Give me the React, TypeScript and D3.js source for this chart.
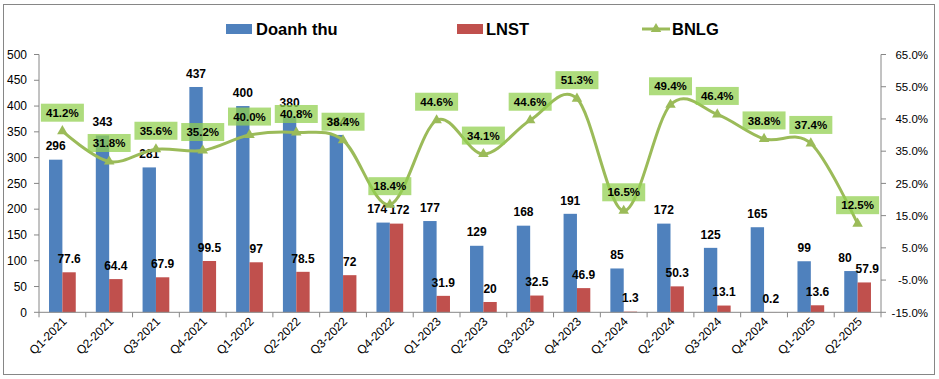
import React from "react";
import * as d3 from "d3";

const categories = [
  "Q1-2021", "Q2-2021", "Q3-2021", "Q4-2021", "Q1-2022", "Q2-2022", "Q3-2022", "Q4-2022",
  "Q1-2023", "Q2-2023", "Q3-2023", "Q4-2023", "Q1-2024", "Q2-2024", "Q3-2024", "Q4-2024",
  "Q1-2025", "Q2-2025",
];
const doanhThu = [296, 343, 281, 437, 400, 380, 344, 174, 177, 129, 168, 191, 85, 172, 125, 165, 99, 80];
const lnst = [77.6, 64.4, 67.9, 99.5, 97, 78.5, 72, 172, 31.9, 20, 32.5, 46.9, 1.3, 50.3, 13.1, 0.2, 13.6, 57.9];
const bnlg = [41.2, 31.8, 35.6, 35.2, 40.0, 40.8, 38.4, 18.4, 44.6, 34.1, 44.6, 51.3, 16.5, 49.4, 46.4, 38.8, 37.4, 12.5];
const leftTicks = [0, 50, 100, 150, 200, 250, 300, 350, 400, 450, 500];
const rightTicks = [-15, -5, 5, 15, 25, 35, 45, 55, 65];
const seriesNames = ["Doanh thu", "LNST", "BNLG"];

const W = 939;
const H = 379;
const plotLeft = 39;
const plotRight = 881;
const plotTop = 54.5;
const plotBottom = 312.3;

const BLUE = "#4F81BD";
const RED = "#C0504D";
const GREEN = "#9BBB59";
const AXIS = "#868686";
const FONT = "'Liberation Sans', Arial, sans-serif";

export default function App() {
  const x = d3.scaleBand<string>().domain(categories).range([plotLeft, plotRight]).paddingInner(0).paddingOuter(0);
  const bw = x.bandwidth();
  const inner = d3.scaleBand<string>().domain(["dt", "ln"]).range([0, bw]).paddingInner(0).paddingOuter(0.75);
  const barW = inner.bandwidth();
  const yL = d3.scaleLinear().domain([0, 500]).range([plotBottom, plotTop]);
  const yR = d3.scaleLinear().domain([-15, 65]).range([plotBottom, plotTop]);

  const pts: [number, number][] = bnlg.map((v, i) => [x(categories[i])! + bw / 2, yR(v)]);
  const linePath = d3.line().curve(d3.curveCatmullRom.alpha(0))(pts) || "";
  const tri = d3.symbol().type(d3.symbolTriangle).size(48)() || "";

  const boundaries = d3.range(categories.length + 1).map((i) => plotLeft + i * bw);

  return (
    <svg width={W} height={H} style={{ position: "absolute", left: 0, top: 0, background: "#fff" }} fontFamily={FONT}>
      <rect x={0} y={0} width={W} height={H} fill="#fff" />
      <rect x={3.5} y={4.5} width={931} height={370} fill="#fff" stroke={AXIS} strokeWidth={1} />

      {/* Legend */}
      <g>
        <rect x={226} y={24} width={26} height={10} fill={BLUE} />
        <text x={256} y={35} fontSize={16.5} fontWeight="bold" fill="#000">{seriesNames[0]}</text>
        <rect x={457} y={24} width={26} height={10} fill={RED} />
        <text x={486} y={35} fontSize={16.5} fontWeight="bold" fill="#000">{seriesNames[1]}</text>
        <line x1={642} x2={670} y1={29} y2={29} stroke={GREEN} strokeWidth={3} />
        <path d={tri} transform="translate(656,29)" fill={GREEN} />
        <text x={672} y={35} fontSize={16.5} fontWeight="bold" fill="#000">{seriesNames[2]}</text>
      </g>

      {/* Left axis */}
      <line x1={plotLeft} x2={plotLeft} y1={plotTop} y2={plotBottom} stroke={AXIS} />
      {leftTicks.map((t) => (
        <g key={"l" + t}>
          <line x1={plotLeft - 5} x2={plotLeft} y1={yL(t)} y2={yL(t)} stroke={AXIS} />
          <text x={27} y={yL(t) + 4.2} textAnchor="end" fontSize={12} fill="#000">{t}</text>
        </g>
      ))}

      {/* Right axis */}
      <line x1={plotRight} x2={plotRight} y1={plotTop} y2={plotBottom} stroke={AXIS} />
      {rightTicks.map((t) => (
        <g key={"r" + t}>
          <line x1={plotRight} x2={plotRight + 5} y1={yR(t)} y2={yR(t)} stroke={AXIS} />
          <text x={928} y={yR(t) + 4.2} textAnchor="end" fontSize={11.5} fill="#000">{t.toFixed(1) + "%"}</text>
        </g>
      ))}

      {/* Bars */}
      {categories.map((c, i) => (
        <g key={"b" + c}>
          <rect x={x(c)! + inner("dt")!} y={yL(doanhThu[i])} width={barW} height={plotBottom - yL(doanhThu[i])} fill={BLUE} />
          <rect x={x(c)! + inner("ln")!} y={yL(lnst[i])} width={barW} height={plotBottom - yL(lnst[i])} fill={RED} />
        </g>
      ))}

      {/* X axis */}
      <line x1={plotLeft} x2={plotRight} y1={plotBottom} y2={plotBottom} stroke={AXIS} />
      {boundaries.map((bx, i) => (
        <line key={"xt" + i} x1={bx} x2={bx} y1={plotBottom} y2={plotBottom + 5} stroke={AXIS} />
      ))}
      {categories.map((c) => (
        <text key={"xl" + c} transform={`translate(${x(c)! + bw / 2 + 5},${plotBottom + 10}) rotate(-45)`} textAnchor="end" fontSize={12} fill="#000">{c}</text>
      ))}

      {/* Bar labels */}
      {categories.map((c, i) => {
        const yb = yL(doanhThu[i]) - 9.3;
        const yr = yL(lnst[i]) - 9.3;
        const clash = Math.abs(yb - yr) < 12;
        const xb = x(c)! + inner("dt")! + barW / 2 - (clash ? 6 : 0);
        const xr = x(c)! + inner("ln")! + barW / 2 + (clash ? 3 : 0);
        return (
          <g key={"bl" + c} fontSize={12} fontWeight="bold" fill="#000">
            <text x={xb} y={yb} textAnchor="middle">{doanhThu[i]}</text>
            <text x={xr} y={yr} textAnchor="middle">{lnst[i]}</text>
          </g>
        );
      })}

      {/* Line */}
      <path d={linePath} fill="none" stroke={GREEN} strokeWidth={3} />
      {pts.map((p, i) => (
        <path key={"m" + i} d={tri} transform={`translate(${p[0]},${p[1]})`} fill={GREEN} />
      ))}

      {/* Line labels */}
      {pts.map((p, i) => (
        <g key={"pl" + i}>
          <rect x={p[0] - 21.5} y={p[1] - 27.5} width={43} height={18} fill="#92D050" fillOpacity={0.74} />
          <text x={p[0]} y={p[1] - 14.3} textAnchor="middle" fontSize={11.5} fontWeight="bold" fill="#000">{bnlg[i].toFixed(1) + "%"}</text>
        </g>
      ))}
    </svg>
  );
}
